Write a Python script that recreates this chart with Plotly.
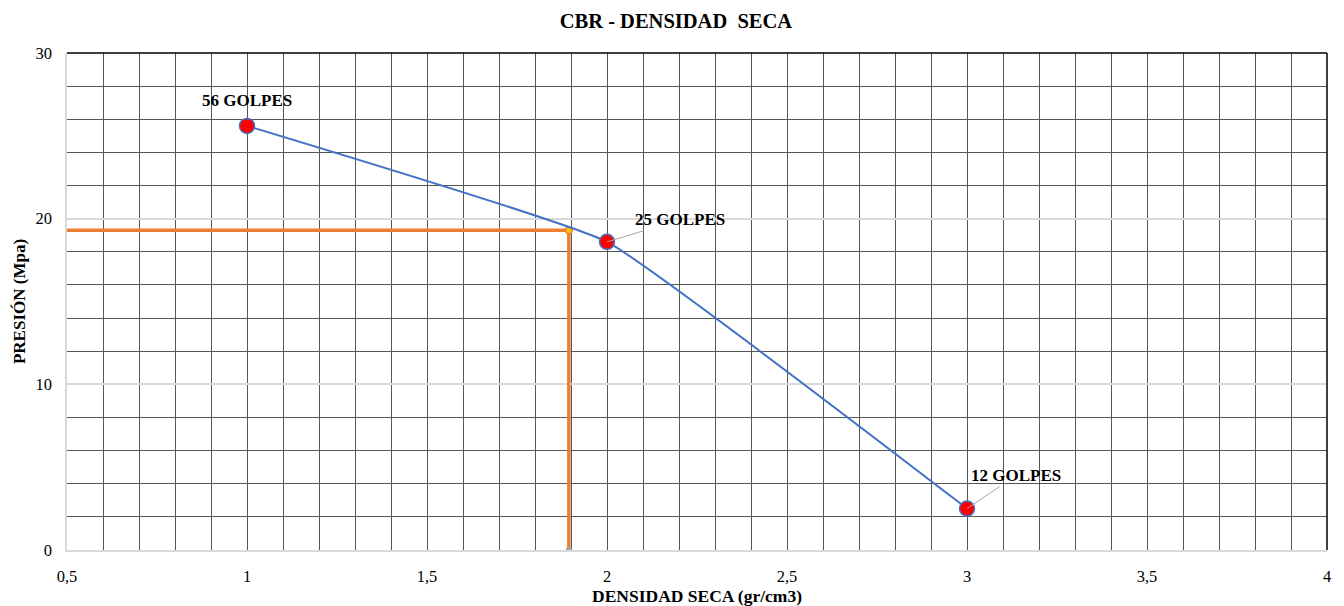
import plotly.graph_objects as go

# Compaction points: dry density vs. pressure
densidad = [1, 2, 3]
presion = [25.6, 18.6, 2.5]
etiquetas = ["56 GOLPES", "25 GOLPES", "12 GOLPES"]

# Design value
densidad_diseno = 1.894
presion_diseno = 19.3

FONT = "Liberation Serif, Times New Roman, serif"
DARK_GRID = "#555555"
LIGHT_GRID = "#d9d9d9"
LABEL_FONT = dict(family=FONT, size=17, color="black")

fig = go.Figure()

# Reference lines down to the axes
fig.add_trace(go.Scatter(
    x=[0.5, densidad_diseno, densidad_diseno],
    y=[presion_diseno, presion_diseno, 0],
    mode="lines",
    line=dict(color="#ED7D31", width=3.5),
    hoverinfo="skip",
))
fig.add_trace(go.Scatter(
    x=[densidad_diseno], y=[presion_diseno],
    mode="markers",
    marker=dict(size=7, color="#FFC000", line=dict(color="#ED7D31", width=1.5)),
    hoverinfo="skip",
))
fig.add_trace(go.Scatter(
    x=[densidad_diseno], y=[0],
    mode="markers",
    marker=dict(size=6, color="#a5a5a5"),
    hoverinfo="skip",
))

# Smoothed curve through the points
fig.add_trace(go.Scatter(
    x=densidad, y=presion,
    mode="lines+markers",
    line=dict(color="#4472C4", width=2, shape="spline", smoothing=0.3),
    marker=dict(size=15, color="#FF0000", line=dict(color="#4472C4", width=1.5)),
))

# Point labels
fig.add_annotation(x=densidad[0], y=presion[0], text="<b>" + etiquetas[0] + "</b>",
                   showarrow=False, yshift=25, font=LABEL_FONT)
fig.add_annotation(x=densidad[1], y=presion[1], text="<b>" + etiquetas[1] + "</b>",
                   showarrow=True, arrowhead=0, arrowwidth=1, arrowcolor="#a6a6a6",
                   ax=73, ay=-22, font=LABEL_FONT)
fig.add_annotation(x=densidad[2], y=presion[2], text="<b>" + etiquetas[2] + "</b>",
                   showarrow=True, arrowhead=0, arrowwidth=1, arrowcolor="#a6a6a6",
                   ax=49, ay=-33, font=LABEL_FONT)

# Black top and right borders of the plot area
fig.add_shape(type="line", xref="x domain", yref="y domain", x0=0, x1=1, y0=1, y1=1,
              line=dict(color="black", width=1.5), layer="above")
fig.add_shape(type="line", xref="x domain", yref="y domain", x0=1, x1=1, y0=0, y1=1,
              line=dict(color="black", width=1.5), layer="above")

fig.update_layout(
    width=1344, height=606,
    margin=dict(l=67, r=17, t=53, b=56),
    paper_bgcolor="white", plot_bgcolor="white",
    showlegend=False,
    separators=", ",
    font=dict(family=FONT, size=16, color="black"),
    title=dict(text="<b>CBR - DENSIDAD  SECA</b>", x=0.4833, xref="paper", xanchor="center",
               y=0.965, yanchor="middle", font=dict(family=FONT, size=20.5, color="black")),
    xaxis=dict(
        range=[0.5, 4], dtick=0.5, tick0=0.5, automargin=False,
        showgrid=True, gridcolor=DARK_GRID, gridwidth=1,
        minor=dict(dtick=0.1, showgrid=True, gridcolor=DARK_GRID, gridwidth=1),
        showline=True, linecolor=LIGHT_GRID, linewidth=1.5,
        zeroline=False, ticks="", ticklen=0, ticklabelstandoff=10,
        tickfont=dict(family=FONT, size=16.5, color="black"),
        title=dict(text="<b>DENSIDAD SECA (gr/cm3)</b>", standoff=8,
                   font=dict(family=FONT, size=17.5, color="black")),
    ),
    yaxis=dict(
        range=[0, 30], dtick=10, tick0=0, automargin=False,
        showgrid=True, gridcolor=LIGHT_GRID, gridwidth=1.5,
        minor=dict(dtick=2, showgrid=True, gridcolor=DARK_GRID, gridwidth=1),
        showline=True, linecolor=LIGHT_GRID, linewidth=1.5,
        zeroline=False, ticks="", ticklen=0, ticklabelstandoff=10,
        tickfont=dict(family=FONT, size=16.5, color="black"),
        title=dict(text="<b>PRESIÓN (Mpa)</b>", standoff=6,
                   font=dict(family=FONT, size=17, color="black")),
    ),
)

fig.write_html("out.html")
